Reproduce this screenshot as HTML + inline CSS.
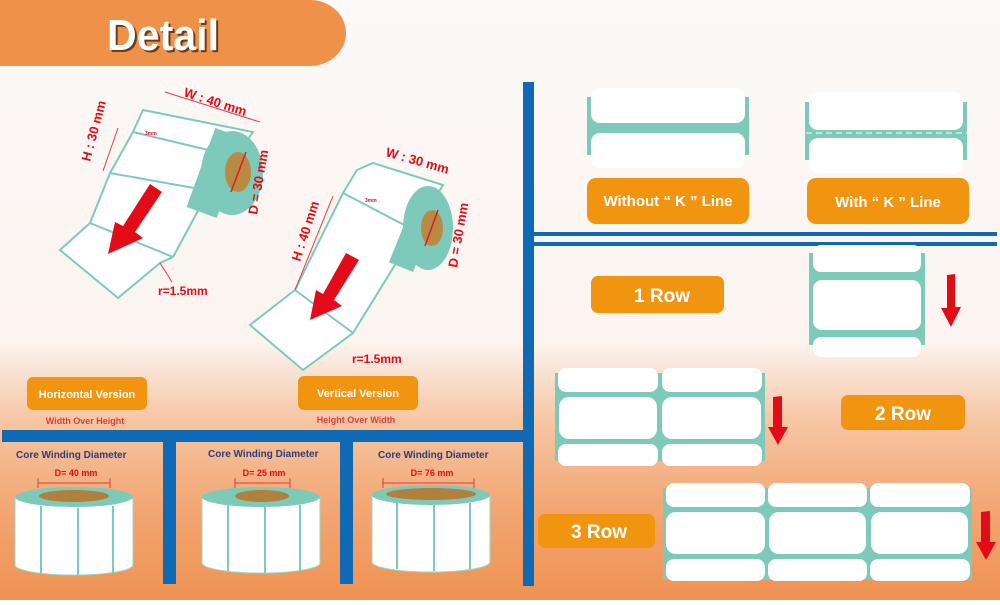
<!DOCTYPE html>
<html><head><meta charset="utf-8"><style>
html,body{margin:0;padding:0;}
body{width:1000px;height:600px;overflow:hidden;font-family:"Liberation Sans",sans-serif;}
</style></head><body>
<svg width="1000" height="600" viewBox="0 0 1000 600" xmlns="http://www.w3.org/2000/svg" font-family="Liberation Sans, sans-serif">
<defs>
<linearGradient id="bg" x1="0" y1="0" x2="0" y2="1">
<stop offset="0" stop-color="#fcf9f8"/>
<stop offset="0.57" stop-color="#fbf4f0"/>
<stop offset="0.7" stop-color="#f6c6a4"/>
<stop offset="0.85" stop-color="#f2a672"/>
<stop offset="1" stop-color="#ef9253"/>
</linearGradient>
</defs>
<rect width="1000" height="600" fill="url(#bg)"/>
<!-- header -->
<path d="M0 0 H310 A36 33 0 0 1 310 66 H0 Z" fill="#ef9149"/>
<text x="163" y="50" text-anchor="middle" font-size="44" font-weight="bold" fill="#6b3a1a" transform="translate(2,2)" style="font-family:'Liberation Sans Narrow','Liberation Sans',sans-serif" textLength="112" lengthAdjust="spacingAndGlyphs">Detail</text>
<text x="163" y="50" text-anchor="middle" font-size="44" font-weight="bold" fill="#fff" style="font-family:'Liberation Sans Narrow','Liberation Sans',sans-serif" textLength="112" lengthAdjust="spacingAndGlyphs">Detail</text>

<!-- blue lines -->
<rect x="523" y="82" width="11" height="504" fill="#0f6ab5"/>
<rect x="534" y="232" width="463" height="4" fill="#0f6ab5"/>
<rect x="534" y="242" width="463" height="4" fill="#0f6ab5"/>
<rect x="2" y="430" width="521" height="12" fill="#0f6ab5"/>
<rect x="163" y="442" width="13" height="142" fill="#0f6ab5"/>
<rect x="340" y="442" width="13" height="142" fill="#0f6ab5"/>

<!-- horizontal roll -->
<g stroke="#7dcabb" stroke-width="2" fill="#fff">
<polygon points="143,110 253,132 200,207 173,257 160,263 118,298 60,250 90,223 110,173 133,132"/>
<line x1="133" y1="132" x2="250" y2="160"/>
<line x1="110" y1="173" x2="205" y2="190"/>
<line x1="90" y1="223" x2="173" y2="257"/>
</g>
<ellipse cx="232" cy="173" rx="31" ry="42" fill="#7dcabb"/>
<rect x="200" y="131" width="32" height="84" fill="#7dcabb" transform="rotate(20 216 173)"/>
<ellipse cx="238" cy="172" rx="13" ry="20" fill="#b88a44"/>
<line x1="246" y1="152" x2="231" y2="192" stroke="#e0192a" stroke-width="1.5"/>
<polygon points="150,184 162,192 135,232 143,238 108,254 115,222 123,226" fill="#e30b17"/>
<g stroke="#e8394a" stroke-width="1" fill="none">
<line x1="165" y1="92" x2="260" y2="122"/>
<line x1="118" y1="128" x2="103" y2="171"/>
<line x1="160" y1="263" x2="172" y2="282"/>
</g>
<g fill="#e30b17" font-weight="bold">
<text x="183" y="96" font-size="13" transform="rotate(18 183 96)">W : 40 mm</text>
<text x="90" y="162" font-size="13" transform="rotate(-75 90 162)">H : 30 mm</text>
<text x="257" y="215" font-size="13" transform="rotate(-80 257 215)">D = 30 mm</text>
<text x="158" y="295" font-size="12">r=1.5mm</text>
<text x="145" y="135" font-size="5">3mm</text>
</g>

<!-- vertical roll -->
<g stroke="#7dcabb" stroke-width="2" fill="#fff">
<polygon points="373,163 443,185 398,260 353,333 303,370 250,325 295,290 343,193 357,170"/>
<line x1="343" y1="193" x2="410" y2="228"/>
<line x1="295" y1="290" x2="353" y2="333"/>
</g>
<ellipse cx="428" cy="228" rx="25" ry="42" fill="#7dcabb"/>
<rect x="403" y="190" width="26" height="80" fill="#7dcabb" transform="rotate(22 416 230)"/>
<ellipse cx="432" cy="228" rx="11" ry="18" fill="#b88a44"/>
<line x1="438" y1="210" x2="425" y2="246" stroke="#e0192a" stroke-width="1.5"/>
<polygon points="346,253 359,260 334,300 342,306 310,320 316,290 323,294" fill="#e30b17"/>
<line x1="333" y1="196" x2="295" y2="290" stroke="#e8394a" stroke-width="1"/>
<g fill="#e30b17" font-weight="bold">
<text x="385" y="156" font-size="13" transform="rotate(16 385 156)">W : 30 mm</text>
<text x="300" y="262" font-size="13" transform="rotate(-72 300 262)">H : 40 mm</text>
<text x="457" y="268" font-size="13" transform="rotate(-80 457 268)">D = 30 mm</text>
<text x="352" y="363" font-size="12">r=1.5mm</text>
<text x="365" y="202" font-size="5">3mm</text>
</g>

<!-- version labels -->
<rect x="27" y="377" width="120" height="33" rx="6" fill="#f19511"/>
<text x="87" y="398" text-anchor="middle" font-size="11" font-weight="bold" fill="#fff">Horizontal Version</text>
<text x="85" y="424" text-anchor="middle" font-size="9" font-weight="bold" fill="#e23b3b">Width Over Height</text>
<rect x="298" y="376" width="120" height="34" rx="6" fill="#f19511"/>
<text x="358" y="397" text-anchor="middle" font-size="11" font-weight="bold" fill="#fff">Vertical Version</text>
<text x="356" y="423" text-anchor="middle" font-size="9" font-weight="bold" fill="#e23b3b">Height Over Width</text>

<!-- core winding panels -->
<g font-weight="bold">
<text x="16" y="458" font-size="10" fill="#2d3c7c">Core Winding Diameter</text>
<text x="208" y="457" font-size="10" fill="#2d3c7c">Core Winding Diameter</text>
<text x="378" y="458" font-size="10" fill="#2d3c7c">Core Winding Diameter</text>
<text x="76" y="476" text-anchor="middle" font-size="9" fill="#e30b17">D= 40 mm</text>
<text x="264" y="476" text-anchor="middle" font-size="9" fill="#e30b17">D= 25 mm</text>
<text x="432" y="476" text-anchor="middle" font-size="9" fill="#e30b17">D= 76 mm</text>
</g>
<g stroke="#e23b3b" stroke-width="1">
<path d="M38 478 V488 M38 483 H110 M110 478 V488"/>
<path d="M235 478 V488 M235 483 H290 M290 478 V488"/>
<path d="M383 478 V488 M383 483 H474 M474 478 V488"/>
</g>
<g>
<path d="M15 498 V565 A59 10 0 0 0 133 565 V498 Z" fill="#fff" stroke="#9ad6c8" stroke-width="1"/>
<g stroke="#7dcabb" stroke-width="2"><line x1="41" y1="506" x2="41" y2="573"/><line x1="78" y1="508" x2="78" y2="575"/><line x1="113" y1="506" x2="113" y2="573"/></g>
<ellipse cx="74" cy="497" rx="59" ry="10" fill="#7dcabb"/>
<ellipse cx="74" cy="496" rx="35" ry="6" fill="#b0803c"/>
<path d="M202 497 V563 A59 10 0 0 0 320 563 V497 Z" fill="#fff" stroke="#9ad6c8" stroke-width="1"/>
<g stroke="#7dcabb" stroke-width="2"><line x1="228" y1="505" x2="228" y2="571"/><line x1="265" y1="507" x2="265" y2="573"/><line x1="300" y1="505" x2="300" y2="571"/></g>
<ellipse cx="261" cy="497" rx="59" ry="10" fill="#7dcabb"/>
<ellipse cx="262" cy="496" rx="27" ry="6" fill="#b0803c"/>
<path d="M372 495 V562 A59 10 0 0 0 490 562 V495 Z" fill="#fff" stroke="#9ad6c8" stroke-width="1"/>
<g stroke="#7dcabb" stroke-width="2"><line x1="397" y1="503" x2="397" y2="569"/><line x1="434" y1="505" x2="434" y2="571"/><line x1="470" y1="503" x2="470" y2="569"/></g>
<ellipse cx="431" cy="495" rx="59" ry="10" fill="#7dcabb"/>
<ellipse cx="431" cy="494" rx="45" ry="6" fill="#b0803c"/>
</g>

<!-- K line shapes -->
<rect x="587" y="97" width="162" height="58" fill="#7dcabb"/>
<rect x="591" y="88" width="154" height="35" rx="9" fill="#fff"/>
<rect x="591" y="133" width="154" height="35" rx="9" fill="#fff"/>
<rect x="805" y="102" width="162" height="58" fill="#7dcabb"/>
<rect x="809" y="92" width="154" height="38" rx="9" fill="#fff"/>
<rect x="809" y="138" width="154" height="35" rx="9" fill="#fff"/>
<line x1="806" y1="133" x2="967" y2="133" stroke="#fff" stroke-width="1" stroke-dasharray="6,4"/>
<rect x="587" y="178" width="162" height="46" rx="9" fill="#f19511"/>
<text x="668" y="206" text-anchor="middle" font-size="15" font-weight="bold" fill="#fff">Without “ K ” Line</text>
<rect x="807" y="178" width="162" height="46" rx="9" fill="#f19511"/>
<text x="888" y="207" text-anchor="middle" font-size="15" font-weight="bold" fill="#fff">With “ K ” Line</text>

<!-- 1 Row -->
<rect x="591" y="276" width="133" height="37" rx="7" fill="#f19511"/>
<text x="662" y="302" text-anchor="middle" font-size="19" font-weight="bold" fill="#fff">1 Row</text>
<rect x="809" y="253" width="116" height="92" fill="#7dcabb"/>
<rect x="813" y="245" width="108" height="27" rx="8" fill="#fff"/>
<rect x="813" y="280" width="108" height="50" rx="9" fill="#fff"/>
<rect x="813" y="337" width="108" height="20" rx="8" fill="#fff"/>
<polygon points="947,275 955,274 955,307 961,307 951,327 941,308 947,308" fill="#e30b17"/>

<!-- 2 Row -->
<rect x="555" y="373" width="210" height="88" fill="#7dcabb"/>
<g fill="#fff">
<rect x="558" y="368" width="100" height="24" rx="8"/><rect x="662" y="368" width="100" height="24" rx="8"/>
<rect x="559" y="397" width="98" height="42" rx="10"/><rect x="662" y="397" width="99" height="42" rx="10"/>
<rect x="558" y="444" width="100" height="22" rx="8"/><rect x="662" y="444" width="100" height="22" rx="8"/>
</g>
<polygon points="773,397 782,396 782,427 788,427 778,445 768,427 773,427" fill="#e30b17"/>
<rect x="841" y="395" width="124" height="35" rx="7" fill="#f19511"/>
<text x="903" y="420" text-anchor="middle" font-size="19" font-weight="bold" fill="#fff">2 Row</text>

<!-- 3 Row -->
<rect x="538" y="514" width="117" height="34" rx="7" fill="#f19511"/>
<text x="599" y="538" text-anchor="middle" font-size="19" font-weight="bold" fill="#fff">3 Row</text>
<rect x="663" y="488" width="309" height="92" fill="#7dcabb"/>
<g fill="#fff">
<rect x="666" y="483" width="99" height="24" rx="8"/><rect x="768" y="483" width="99" height="24" rx="8"/><rect x="870" y="483" width="100" height="24" rx="8"/>
<rect x="666" y="512" width="99" height="42" rx="10"/><rect x="769" y="512" width="97" height="42" rx="10"/><rect x="871" y="512" width="97" height="42" rx="10"/>
<rect x="666" y="559" width="99" height="22" rx="8"/><rect x="768" y="559" width="99" height="22" rx="8"/><rect x="870" y="559" width="100" height="22" rx="8"/>
</g>
<polygon points="981,512 990,511 990,542 996,542 986,560 976,542 981,542" fill="#e30b17"/>
</svg>
</body></html>
